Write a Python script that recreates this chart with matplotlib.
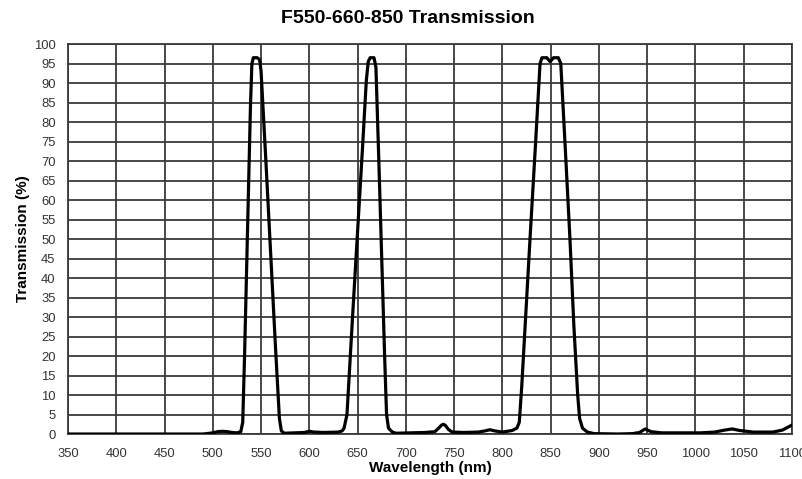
import matplotlib
matplotlib.use("Agg")
import matplotlib.pyplot as plt
import numpy as np

plt.rcParams['font.family'] = ['Liberation Sans', 'DejaVu Sans']

wavelength = [350, 400, 450, 490, 500, 505, 510, 515, 520, 525, 529, 531, 533, 535,
              537, 539, 540.5, 542, 546, 548.5, 550, 555, 560, 565, 569, 571, 574,
              585, 595, 600, 605, 615, 630, 634, 636, 639, 645, 650, 655, 659, 661,
              663, 667, 669, 672, 675, 678, 680, 682, 686, 690, 705, 720, 730, 734,
              737, 739, 741, 744, 748, 760, 775, 782, 787, 792, 800, 810, 815, 817.5,
              820, 823.4, 828.6, 834, 839, 841, 846, 849.5, 853, 858, 860.5, 865,
              870, 874, 878, 880, 883, 888, 895, 920, 935, 942, 948, 954, 965, 985,
              1005, 1020, 1030, 1038, 1046, 1060, 1080, 1090, 1100]
transmission = [0, 0, 0, 0, 0.3, 0.6, 0.7, 0.6, 0.4, 0.3, 0.6, 3, 21, 42,
                63, 84, 95, 96.5, 96.5, 96, 93, 70, 46, 22, 4, 0.8, 0.2,
                0.3, 0.4, 0.7, 0.5, 0.4, 0.5, 0.8, 1.5, 5, 31, 52, 73, 90.5, 95.5,
                96.5, 96.5, 94, 70, 45, 20, 5, 1.5, 0.5, 0.2, 0.3, 0.4, 0.6, 1.5,
                2.3, 2.5, 2.2, 1.2, 0.5, 0.4, 0.5, 0.8, 1.1, 0.8, 0.5, 0.9, 1.5, 3,
                12, 27, 50, 73, 95, 96.5, 96.5, 95.5, 96.5, 96.5, 95, 74,
                50, 28, 10, 4, 1.5, 0.5, 0.1, 0, 0.1, 0.4, 1.3, 0.6, 0.3, 0.3,
                0.3, 0.5, 1.0, 1.3, 0.9, 0.5, 0.5, 1.0, 2.3]

x_ticks = list(range(350, 1101, 50))
y_ticks = list(range(0, 101, 5))

fig = plt.figure(figsize=(8.02, 4.79), dpi=100)
ax = fig.add_axes([0.0848, 0.0939, 0.9027, 0.8141])

ax.plot(wavelength, transmission, color='black', lw=2.3, solid_joinstyle='round',
        solid_capstyle='round', zorder=3)

ax.set_xlim(350, 1100)
ax.set_ylim(0, 100)
ax.set_xticks(x_ticks)
ax.set_yticks(y_ticks)
ax.grid(True, color='#3a3a3a', lw=1.3)
ax.set_axisbelow(True)
for s in ax.spines.values():
    s.set_color('#3a3a3a')
    s.set_linewidth(1.3)
ax.tick_params(length=0, labelsize=9.4, labelcolor='#333333')
ax.tick_params(axis='y', pad=9)
ax.tick_params(axis='x', pad=10)

ax.set_title('F550-660-850 Transmission', fontsize=14, fontweight='bold', pad=15, x=0.47)
ax.set_xlabel('Wavelength (nm)', fontsize=11, fontweight='bold', labelpad=1)
ax.set_ylabel('Transmission (%)', fontsize=11, fontweight='bold', labelpad=3)

fig.savefig('out.png', dpi=100)
